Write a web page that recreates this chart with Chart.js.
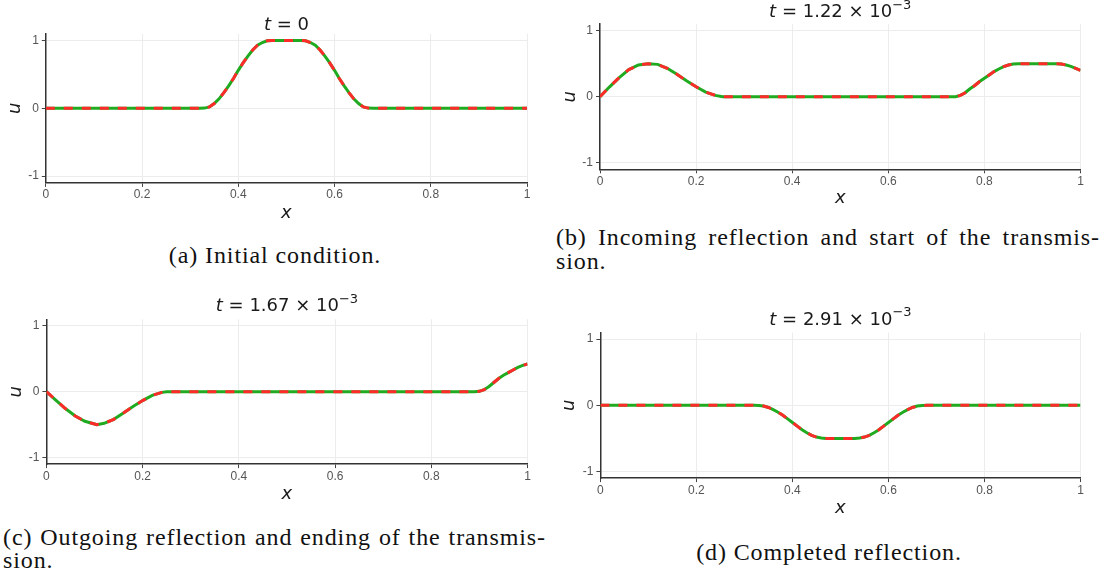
<!DOCTYPE html>
<html>
<head>
<meta charset="utf-8">
<script src="https://cdn.jsdelivr.net/npm/chart.js@4.4.1/dist/chart.umd.min.js"></script>
<style>
  html, body { margin: 0; padding: 0; background: #fff; }
  body { position: relative; width: 1113px; height: 586px; overflow: hidden; }
  canvas { position: absolute; }
  .cap {
    position: absolute;
    font-family: "Liberation Serif", serif;
    font-size: 24px;
    letter-spacing: 0.9px;
    line-height: 24px;
    color: #111;
    white-space: nowrap;
  }
  .cap.center { text-align: center; }
  .cap.just { text-align: justify; text-align-last: justify; }
</style>
</head>
<body>
<canvas id="cA" width="556" height="228" style="left:0px;top:0px"></canvas>
<canvas id="cB" width="557" height="215" style="left:556px;top:0px"></canvas>
<canvas id="cC" width="556" height="218" style="left:0px;top:292px"></canvas>
<canvas id="cD" width="557" height="230" style="left:556px;top:292px"></canvas>

<div class="cap center" id="capA" style="left:125px;top:243px;width:300px"></div>
<div class="cap just" id="capB1" style="left:556px;top:225px;width:544px"></div>
<div class="cap" id="capB2" style="left:556px;top:249px"></div>
<div class="cap just" id="capC1" style="left:3px;top:525px;width:543px"></div>
<div class="cap" id="capC2" style="left:3px;top:548px"></div>
<div class="cap center" id="capD" style="left:679px;top:540px;width:300px"></div>

<script>
// ---- solution u(x) at four times ----
const xA = [0, 0.32, 0.33, 0.34, 0.35, 0.36, 0.37, 0.38, 0.39, 0.40, 0.41, 0.42, 0.43, 0.44, 0.45, 0.46, 0.47,
            0.53, 0.54, 0.55, 0.56, 0.57, 0.58, 0.59, 0.60, 0.61, 0.62, 0.63, 0.64, 0.65, 0.66, 0.67, 0.68, 1];
const uA = [0, 0, 0.003, 0.02, 0.07, 0.14, 0.23, 0.33, 0.44, 0.56, 0.67, 0.77, 0.86, 0.93, 0.97, 0.995, 1,
            1, 0.995, 0.97, 0.93, 0.86, 0.77, 0.67, 0.56, 0.44, 0.33, 0.23, 0.14, 0.07, 0.02, 0.003, 0, 0];

const xB = [0, 0.02, 0.04, 0.06, 0.08, 0.10, 0.12, 0.14, 0.16, 0.18, 0.20, 0.22, 0.24, 0.255,
            0.74, 0.75, 0.76, 0.77, 0.78, 0.79, 0.80, 0.81, 0.82, 0.83, 0.84, 0.85, 0.86, 0.87,
            0.95, 0.96, 0.97, 0.98, 0.99, 1];
const uB = [0, 0.15, 0.29, 0.41, 0.48, 0.50, 0.49, 0.43, 0.34, 0.24, 0.15, 0.07, 0.02, 0,
            0, 0.02, 0.06, 0.12, 0.17, 0.23, 0.28, 0.33, 0.38, 0.42, 0.455, 0.48, 0.495, 0.5,
            0.5, 0.495, 0.48, 0.46, 0.43, 0.40];

const xC = [0, 0.02, 0.04, 0.06, 0.08, 0.10, 0.105, 0.12, 0.14, 0.16, 0.18, 0.20, 0.22, 0.24, 0.25,
            0.89, 0.90, 0.91, 0.92, 0.93, 0.94, 0.95, 0.96, 0.97, 0.98, 0.99, 1];
const uC = [0, -0.13, -0.26, -0.37, -0.45, -0.49, -0.5, -0.48, -0.42, -0.325, -0.225, -0.135, -0.055, -0.01, 0,
            0, 0.005, 0.03, 0.08, 0.14, 0.20, 0.25, 0.29, 0.33, 0.37, 0.40, 0.42];

const xD = [0, 0.32, 0.33, 0.34, 0.35, 0.36, 0.37, 0.38, 0.39, 0.40, 0.41, 0.42, 0.43, 0.44, 0.45, 0.46, 0.47,
            0.53, 0.54, 0.55, 0.56, 0.57, 0.58, 0.59, 0.60, 0.61, 0.62, 0.63, 0.64, 0.65, 0.66, 0.67, 0.68, 1];
const uD = [0, 0, -0.003, -0.012, -0.033, -0.065, -0.105, -0.15, -0.205, -0.26, -0.315, -0.37, -0.415, -0.455, -0.48, -0.495, -0.5,
            -0.5, -0.495, -0.48, -0.455, -0.415, -0.37, -0.315, -0.26, -0.205, -0.15, -0.105, -0.065, -0.033, -0.012, -0.003, 0, 0];

// ---- titles, ticks, captions ----
const timeValues = ["0", "1.22 \u00d7 10", "1.67 \u00d7 10", "2.91 \u00d7 10"];
const timeExponents = ["", "\u22123", "\u22123", "\u22123"];
const xTicks = [0, 0.2, 0.4, 0.6, 0.8, 1];
const xTickLabels = ["0", "0.2", "0.4", "0.6", "0.8", "1"];
const yTicks = [-1, 0, 1];
const yTickLabels = ["-1", "0", "1"];
const captions = [
  ["(a) Initial condition."],
  ["(b) Incoming reflection and start of the transmis-", "sion."],
  ["(c) Outgoing reflection and ending of the transmis-", "sion."],
  ["(d) Completed reflection."]
];

document.getElementById("capA").textContent = captions[0][0];
document.getElementById("capB1").textContent = captions[1][0];
document.getElementById("capB2").textContent = captions[1][1];
document.getElementById("capC1").textContent = captions[2][0];
document.getElementById("capC2").textContent = captions[2][1];
document.getElementById("capD").textContent = captions[3][0];

// plot frames in page pixels: canvas box + wanted chart area
const frames = [
  { id: "cA", left: 0,   top: 0,   w: 556, h: 228, L: 45.8,  R: 527,    T: 33.7,  B: 182.9, titleY: 25,    xTitleY: 213,   uX: 15.5 },
  { id: "cB", left: 556, top: 0,   w: 557, h: 215, L: 600,   R: 1080.5, T: 24.1,  B: 169.3, titleY: 12.7,  xTitleY: 198,   uX: 570.6 },
  { id: "cC", left: 0,   top: 292, w: 556, h: 218, L: 46.4,  R: 527.5,  T: 319.3, B: 464.1, titleY: 306.7, xTitleY: 494,   uX: 16 },
  { id: "cD", left: 556, top: 292, w: 557, h: 230, L: 600.4, R: 1080.5, T: 332.5, B: 478.1, titleY: 320,   xTitleY: 508.3, uX: 569 }
];

const TICK_FONT = { family: "'Liberation Sans', sans-serif", size: 12 };
const AXIS_FONT = { family: "'DejaVu Sans', sans-serif", size: 18, style: "italic", lineHeight: 1.2 };
const HALF_LH = 18 * 1.2 / 2;

// "t = value x 10^exp" with italic t and raised exponent
const timeTitle = {
  id: "timeTitle",
  afterDraw(chart, args, opts) {
    const { ctx, chartArea } = chart;
    const parts = [
      { text: "t", font: "italic 18px 'DejaVu Sans'", rise: 0 },
      { text: " = " + opts.value, font: "18px 'DejaVu Sans'", rise: 0 },
      { text: opts.exp, font: "13px 'DejaVu Sans'", rise: 7 }
    ];
    ctx.save();
    let total = 0;
    parts.forEach((p) => {
      ctx.font = p.font;
      p.w = ctx.measureText(p.text).width;
      total += p.w;
    });
    let x = (chartArea.left + chartArea.right) / 2 - total / 2;
    ctx.fillStyle = "#1a1a1a";
    ctx.textBaseline = "middle";
    ctx.textAlign = "left";
    parts.forEach((p) => {
      ctx.font = p.font;
      ctx.fillText(p.text, x, opts.y - p.rise);
      x += p.w;
    });
    ctx.restore();
  }
};

function makeChart(f, xs, us, idx) {
  const pts = xs.map((x, i) => ({ x: x, y: us[i] }));
  new Chart(document.getElementById(f.id), {
    type: "line",
    data: {
      datasets: [
        { data: pts, borderColor: "#ff2b2b", borderWidth: 3, borderDash: [9, 9], pointRadius: 0, fill: false },
        { data: pts, borderColor: "#1faa1f", borderWidth: 3, pointRadius: 0, fill: false }
      ]
    },
    options: {
      responsive: false,
      animation: false,
      devicePixelRatio: 1,
      layout: {
        padding: { left: 0, bottom: 0, top: f.T - f.top, right: f.left + f.w - f.R }
      },
      plugins: {
        legend: { display: false },
        tooltip: { enabled: false },
        timeTitle: { value: timeValues[idx], exp: timeExponents[idx], y: f.titleY - f.top }
      },
      scales: {
        x: {
          type: "linear",
          min: 0,
          max: 1,
          afterBuildTicks: (s) => { s.ticks = xTicks.map((v) => ({ value: v })); },
          afterFit: (s) => { s.height = f.top + f.h - f.B; },
          ticks: {
            callback: (v, i) => xTickLabels[i],
            font: TICK_FONT,
            color: "#555",
            padding: 1,
            maxRotation: 0,
            autoSkip: false
          },
          grid: { color: "#ececec", tickColor: "#444", tickLength: 4, lineWidth: 1 },
          border: { color: "#333", width: 1.5 },
          title: {
            display: true,
            text: "x",
            font: AXIS_FONT,
            color: "#1a1a1a",
            padding: { top: 0, bottom: f.top + f.h - f.xTitleY - HALF_LH }
          }
        },
        y: {
          type: "linear",
          min: -1.1,
          max: 1.1,
          afterBuildTicks: (s) => { s.ticks = yTicks.map((v) => ({ value: v })); },
          afterFit: (s) => { s.width = f.L - f.left; },
          ticks: {
            callback: (v, i) => yTickLabels[i],
            font: TICK_FONT,
            color: "#555",
            padding: 3
          },
          grid: { color: "#ececec", tickColor: "#444", tickLength: 4, lineWidth: 1 },
          border: { color: "#333", width: 1.5 },
          title: {
            display: true,
            text: "u",
            font: AXIS_FONT,
            color: "#1a1a1a",
            padding: { top: f.uX - f.left - HALF_LH, bottom: 0 }
          }
        }
      }
    },
    plugins: [timeTitle]
  });
}

makeChart(frames[0], xA, uA, 0);
makeChart(frames[1], xB, uB, 1);
makeChart(frames[2], xC, uC, 2);
makeChart(frames[3], xD, uD, 3);
</script>
</body>
</html>
